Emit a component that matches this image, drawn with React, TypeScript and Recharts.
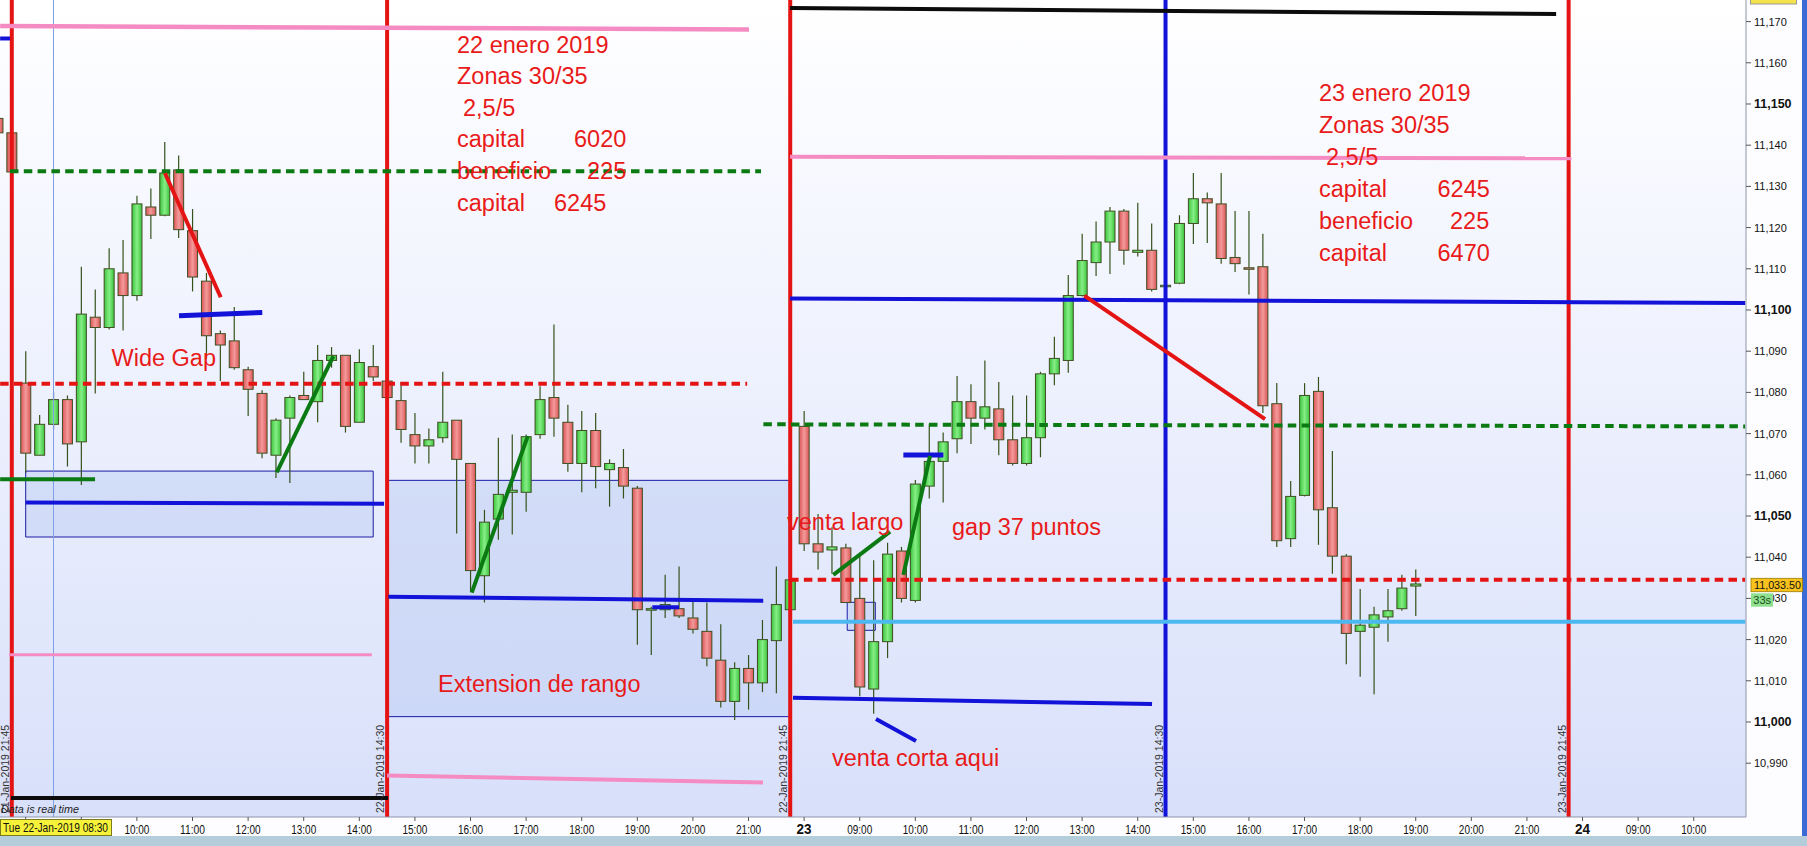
import React from "react";
import {
  ComposedChart,
  Bar,
  XAxis,
  YAxis,
  ReferenceLine,
  ReferenceArea,
} from "recharts";

// ---- candle data (15-minute bars, index 0 = 22-Jan 08:00, 56 bars per session) ----
const slotIdx = [
  -2, -1, 0, 1, 2, 3, 4, 5, 6, 7, 8, 9, 10, 11, 12, 13, 14, 15, 16, 17, 18, 19,
  20, 21, 22, 23, 24, 25, 26, 27, 28, 29, 30, 31, 32, 33, 34, 35, 36, 37, 38, 39,
  40, 41, 42, 43, 44, 45, 46, 47, 48, 49, 50, 51, 52, 53, 54, 55, 56, 57, 58, 59,
  60, 61, 62, 63, 64, 65, 66, 67, 68, 69, 70, 71, 72, 73, 74, 75, 76, 77, 78, 79,
  80, 81, 82, 83, 84, 85, 86, 87, 88, 89, 90, 91, 92, 93, 94, 95, 96, 97, 98, 99, 100,
];
const opens = [
  11146.5, 11143,
  11082.25, 11064.75, 11072.25, 11078.25, 11068, 11098.25, 11095.75, 11109, 11103.5, 11125,
  11123, 11134, 11119.25, 11107, 11094.25, 11092.5, 11085.5, 11079.75, 11064.75, 11073.75,
  11079.25, 11077.75, 11087.75, 11089, 11072.75, 11086.25, 11082.75, 11078, 11069.75, 11067,
  11069, 11073.25, 11062.75, 11035.5, 11049.25, 11055.75, 11055.75, 11069.75, 11078.75, 11072.75,
  11062.75, 11070.75, 11061.25, 11061.75, 11056.75, 11027.25, 11027.25, 11027.5, 11025.25, 11022,
  11015, 11005, 11013, 11009.5, 11019.75, 11027.25,
  11071.75, 11043.25, 11041.75, 11042.25, 11030, 11008, 11019.5, 11041.5, 11029.5, 11057.25,
  11063.25, 11068.75, 11077.75, 11073.75, 11076, 11068.5, 11062.75, 11069, 11084.5, 11087.75,
  11103.5, 11111.5, 11116.5, 11124, 11114, 11114.5, 11106, 11106.5, 11121, 11127,
  11125.75, 11112.75, 11110.25, 11110.5, 11077.25, 11044.5, 11055, 11080.25, 11052, 11040.25,
  11022, 11023, 11025.5, 11027.5, 11033,
];
const highs = [
  11148, 11143.5,
  11090, 11074.5, 11080, 11079.25, 11110.5, 11105, 11115, 11117, 11127.75, 11129.5,
  11140.75, 11137.5, 11124.5, 11109, 11095, 11100.75, 11086.25, 11080.5, 11073.75, 11079.25,
  11085, 11091.5, 11091, 11089, 11090.5, 11091.5, 11083.5, 11082.5, 11075, 11071.25,
  11085, 11073.25, 11062.75, 11051.5, 11069, 11069.75, 11069.75, 11081.5, 11096.5, 11077,
  11075.5, 11075, 11063.75, 11066.25, 11057.25, 11028, 11035.75, 11037.75, 11029.25, 11029,
  11023.75, 11014.5, 11016.25, 11024.75, 11037.75, 11038,
  11075.5, 11050.5, 11047.25, 11043.25, 11040.25, 11039.25, 11043.5, 11042.5, 11058.75, 11072.25,
  11070.25, 11084, 11082, 11087.75, 11082.5, 11079.25, 11079.25, 11085, 11093.5, 11108.5,
  11118.5, 11121.5, 11125, 11124.5, 11126, 11121, 11106.5, 11123, 11133.25, 11128.5,
  11133.25, 11124, 11124, 11118.5, 11082.25, 11058.5, 11082.25, 11083.75, 11065.75, 11040.75,
  11032.25, 11028, 11032.25, 11035.75, 11037,
];
const lows = [
  11142.5, 11133.5,
  11060.5, 11064.75, 11071, 11062, 11057.5, 11079.75, 11095.25, 11095, 11102.25, 11117.25,
  11122.75, 11117.5, 11104.5, 11088, 11082.75, 11085.5, 11074.25, 11064, 11059.25, 11058,
  11078.25, 11072.75, 11086, 11070.25, 11072.75, 11082.75, 11078.25, 11067.75, 11062.75, 11062.75,
  11067.75, 11045.75, 11031.5, 11029, 11044.25, 11045.5, 11051, 11068.75, 11069.25, 11060.75,
  11055.75, 11056.75, 11052.25, 11054.25, 11018.75, 11016.25, 11025.25, 11025.25, 11021.5, 11013.5,
  11003.5, 11000.5, 11003, 11007.25, 11007, 11027,
  11041.5, 11037, 11036, 11029, 11006.25, 11002, 11015.5, 11029, 11029, 11054.25,
  11053.25, 11065.25, 11067.5, 11071, 11064.75, 11062.25, 11062.25, 11064.25, 11081.75, 11084.75,
  11103.25, 11108.25, 11108.75, 11111, 11113, 11104.5, 11105.5, 11106.25, 11116, 11116.25,
  11111.25, 11109.25, 11103.75, 11075, 11042.5, 11042.5, 11054.75, 11043, 11036, 11014,
  11011, 11006.75, 11019.5, 11027, 11025.75,
];
const closes = [
  11143, 11133.5,
  11065.25, 11072.25, 11078.25, 11067.5, 11099, 11095.75, 11110, 11103.5, 11125.75, 11123,
  11133.25, 11119.5, 11108, 11093.75, 11091.5, 11086, 11080.75, 11065.25, 11073.25, 11078.75,
  11078.25, 11087.75, 11089, 11071.75, 11087.25, 11083.75, 11078.75, 11071, 11067, 11068.5,
  11072.75, 11063.75, 11036.75, 11048.5, 11055.25, 11056.25, 11069.25, 11078.25, 11073.75, 11062.75,
  11070.75, 11062, 11062.75, 11057.25, 11027.25, 11027.5, 11028.5, 11025.75, 11022.5, 11015.5,
  11005, 11013, 11009.5, 11020, 11028.5, 11034.5,
  11043.25, 11041.25, 11042.5, 11029, 11008.5, 11019.5, 11040.75, 11030, 11057.75, 11063.25,
  11068, 11077.75, 11073.75, 11076.5, 11068.5, 11062.75, 11069, 11084.5, 11088.25, 11103.5,
  11112, 11116.5, 11124, 11114.5, 11114.5, 11105, 11106, 11121, 11127, 11126,
  11112.5, 11111.25, 11110, 11076.75, 11044, 11054.75, 11079.25, 11051.5, 11040.25, 11021.5,
  11023.5, 11026, 11027, 11032.5, 11033.5,
];

// ---- axes ----
const X_MIN = -1.849;
const X_MAX = 123.76;
const Y_MIN = 10976.94;
const Y_MAX = 11175.24;
const yTicks = [
  10990, 11000, 11010, 11020, 11030, 11040, 11050, 11060, 11070, 11080, 11090,
  11100, 11110, 11120, 11130, 11140, 11150, 11160, 11170,
];
const xTickIdx = [
  0, 4, 8, 12, 16, 20, 24, 28, 32, 36, 40, 44, 48, 52, 56, 60, 64, 68, 72, 76, 80,
  84, 88, 92, 96, 100, 104, 108, 112, 116, 120,
];
const xTickText = [
  "", "", "10:00", "11:00", "12:00", "13:00", "14:00", "15:00", "16:00", "17:00",
  "18:00", "19:00", "20:00", "21:00", "23", "09:00", "10:00", "11:00", "12:00",
  "13:00", "14:00", "15:00", "16:00", "17:00", "18:00", "19:00", "20:00", "21:00",
  "24", "09:00", "10:00",
];

// ---- drawn annotations (data coordinates: slot index, price) ----
const RED = "#e51414";
const BLUE = "#1212d8";
const GREEN = "#0b7a12";
const PINK = "#f48cc3";
const BLACK = "#0c0c0c";
const LBLUE = "#4cb8f2";

type Seg = [number, number, number, number, string, number, boolean?];
const segments: Seg[] = [
  [-1.84, 11168.9, 52.04, 11168.1, PINK, 4.5],
  [54.99, 11173.3, 110.1, 11171.85, BLACK, 4],
  [-1.84, 11165.9, -1.13, 11165.9, BLUE, 4],
  [-1.13, 11133.7, 52.9, 11133.7, GREEN, 4, true],
  [-1.84, 11082.1, 51.9, 11082.1, RED, 4, true],
  [11.03, 11098.6, 17.02, 11099.4, BLUE, 5],
  [10.02, 11133.2, 14.03, 11103.1, RED, 4],
  [18.06, 11060.6, 22.13, 11088.8, GREEN, 4],
  [-1.84, 11058.9, 4.99, 11058.9, GREEN, 4],
  [0, 11053.25, 25.78, 11053.0, BLUE, 4],
  [-1.2, 11016.35, 24.9, 11016.35, PINK, 3],
  [-1.06, 10981.55, 26.07, 10981.55, BLACK, 4],
  [26.09, 11030.4, 53.06, 11029.45, BLUE, 4],
  [45.08, 11027.85, 47.0, 11027.85, BLUE, 4],
  [32.09, 11031.4, 36.12, 11069.4, GREEN, 4],
  [26, 10987, 53.04, 10985.3, PINK, 4],
  [54.99, 11137.2, 111.2, 11136.8, PINK, 4],
  [54.99, 11102.8, 123.7, 11101.7, BLUE, 4],
  [76.16, 11103.5, 89.16, 11073.5, RED, 4],
  [53.07, 11072.25, 123.7, 11071.75, GREEN, 4, true],
  [63.14, 11064.8, 66.02, 11064.8, BLUE, 5],
  [58.1, 11035.7, 62.18, 11046.2, GREEN, 4],
  [63.14, 11035.7, 65.06, 11064.6, GREEN, 4],
  [54.99, 11034.55, 123.7, 11034.55, RED, 4, true],
  [55.2, 11024.35, 123.7, 11024.35, LBLUE, 4],
  [55.2, 11005.9, 81.03, 11004.35, BLUE, 4],
  [61.17, 11000.7, 64.05, 10995.4, BLUE, 4],
];
type Box = [number, number, number, number];
const boxes: Box[] = [
  [0, 25.0, 11044.9, 11060.9],
  [26.0, 54.94, 11001.3, 11058.65],
  [59.1, 61.12, 11022.25, 11029.05],
];
const sessionLines: [number, string][] = [
  [-1, RED],
  [26, RED],
  [55, RED],
  [82, BLUE],
  [111, RED],
];
const sessionLabels = [
  "21-Jan-2019 21:45",
  "22-Jan-2019 14:30",
  "22-Jan-2019 21:45",
  "23-Jan-2019 14:30",
  "23-Jan-2019 21:45",
];

const candles = slotIdx.map((i, k) => ({
  i,
  o: opens[k],
  h: highs[k],
  l: lows[k],
  c: closes[k],
  range: [lows[k], highs[k]],
}));

const W = 1807;
const H = 846;
const PLOT_W = 1746;
const PLOT_H = 817;
const px = (i: number) => ((i - X_MIN) / (X_MAX - X_MIN)) * PLOT_W;

const Candle = (props: any) => {
  const { x, y, width, height, payload } = props;
  if (payload == null || x == null) return null;
  const cx = x + width / 2;
  const top = Math.min(y, y + height);
  const hh = Math.abs(height);
  const span = payload.h - payload.l;
  const py = (p: number) => (span === 0 ? top : top + ((payload.h - p) / span) * hh);
  const up = payload.c >= payload.o;
  const bTop = py(Math.max(payload.o, payload.c));
  const bBot = py(Math.min(payload.o, payload.c));
  const bh = Math.max(bBot - bTop, 1.5);
  const bw = 10;
  return (
    <g>
      <line x1={cx} x2={cx} y1={top} y2={top + hh} stroke="#35521c" strokeWidth={1.2} />
      <rect
        x={cx - bw / 2}
        y={bTop}
        width={bw}
        height={bh}
        fill={up ? "url(#gUp)" : "url(#gDn)"}
        stroke="#3f4f22"
        strokeWidth={1}
      />
    </g>
  );
};

const TXT = "'Liberation Sans', Arial, sans-serif";

const YTick = (props: any) => {
  const { x, y, payload } = props;
  const v = payload.value as number;
  const bold = v % 50 === 0;
  const s = v.toLocaleString("en-US");
  return (
    <text
      x={x}
      y={y + 4}
      fontSize={bold ? 12.5 : 11}
      fontWeight={bold ? 700 : 400}
      fill="#111"
      fontFamily={TXT}
    >
      {s}
    </text>
  );
};

const XTick = (props: any) => {
  const { x, y, payload } = props;
  const k = xTickIdx.indexOf(payload.value);
  const t = k >= 0 ? xTickText[k] : "";
  if (!t) return null;
  const day = t.length === 2;
  if (day) {
    return (
      <text x={x} y={y + 13} textAnchor="middle" fontSize={15} fontWeight={700} fill="#111" fontFamily={TXT}
        textLength={15} lengthAdjust="spacingAndGlyphs">
        {t}
      </text>
    );
  }
  return (
    <text
      x={x - 12.5}
      y={y + 13}
      fontSize={12.5}
      fill="#111"
      fontFamily={TXT}
      textLength={25}
      lengthAdjust="spacingAndGlyphs"
    >
      {t}
    </text>
  );
};

export default function App() {
  return (
    <div style={{ position: "relative", width: W, height: H, overflow: "hidden" }}>
      <style>{"body{margin:0}"}</style>
      <div
        style={{
          position: "absolute",
          left: 0,
          top: 0,
          width: PLOT_W,
          height: PLOT_H,
          background: "linear-gradient(to bottom, #ffffff 0%, #f0f3fe 40%, #d8e0fa 100%)",
        }}
      />
      <div style={{ position: "absolute", left: PLOT_W, top: 0, width: W - PLOT_W, height: 836, background: "#fdfdff" }} />
      <div style={{ position: "absolute", left: 0, top: PLOT_H, width: W, height: 836 - PLOT_H, background: "#fdfdff" }} />
      <div style={{ position: "absolute", left: 0, top: 836, width: W, height: 10, background: "#b3cdda" }} />
      <div style={{ position: "absolute", left: 1802, top: 0, width: 5, height: 836, background: "#3b6cd6" }} />
      <svg width={0} height={0} style={{ position: "absolute" }}>
        <defs>
          <linearGradient id="gUp" x1="0" x2="1" y1="0" y2="0">
            <stop offset="0%" stopColor="#3cc43c" />
            <stop offset="50%" stopColor="#86ee86" />
            <stop offset="100%" stopColor="#3cc43c" />
          </linearGradient>
          <linearGradient id="gDn" x1="0" x2="1" y1="0" y2="0">
            <stop offset="0%" stopColor="#dc5557" />
            <stop offset="50%" stopColor="#f39a9a" />
            <stop offset="100%" stopColor="#dc5557" />
          </linearGradient>
        </defs>
      </svg>
      <div style={{ position: "absolute", left: 0, top: 0 }}>
        <ComposedChart
          width={W}
          height={H}
          data={candles}
          margin={{ top: 0, right: 0, bottom: 0, left: 0 }}
        >
          <XAxis
            dataKey="i"
            type="number"
            domain={[X_MIN, X_MAX]}
            allowDataOverflow
            ticks={xTickIdx}
            interval={0}
            height={29}
            tickSize={4}
            tickMargin={0}
            tick={(p: any) => <XTick {...p} />}
            axisLine={{ stroke: "#8c96a8" }}
            tickLine={{ stroke: "#555" }}
          />
          <YAxis
            orientation="right"
            type="number"
            domain={[Y_MIN, Y_MAX]}
            allowDataOverflow
            ticks={yTicks}
            interval={0}
            width={61}
            tickSize={5}
            tickMargin={3}
            tick={(p: any) => <YTick {...p} />}
            axisLine={{ stroke: "#8c96a8" }}
            tickLine={{ stroke: "#555" }}
          />
          {boxes.map((b, k) => (
            <ReferenceArea
              key={"b" + k}
              x1={b[0]}
              x2={b[1]}
              y1={b[2]}
              y2={b[3]}
              fill="#b9c9f2"
              fillOpacity={0.45}
              stroke="#1c1ca6"
              strokeWidth={1}
              ifOverflow="hidden"
            />
          ))}
          <ReferenceLine x={2} stroke="#7f9fe8" strokeWidth={1} ifOverflow="hidden" />
          <Bar
            dataKey="range"
            barSize={10}
            isAnimationActive={false}
            shape={(p: any) => <Candle {...p} />}
          />
          {sessionLines.map(([xv, col], k) => (
            <ReferenceLine key={"v" + k} x={xv} stroke={col} strokeWidth={4} ifOverflow="hidden" />
          ))}
          {segments.map((s, k) => (
            <ReferenceLine
              key={"s" + k}
              segment={[
                { x: s[0], y: s[1] },
                { x: s[2], y: s[3] },
              ]}
              stroke={s[4]}
              strokeWidth={s[5]}
              strokeDasharray={s[6] ? "8.5 5.3" : undefined}
              ifOverflow="hidden"
            />
          ))}
        </ComposedChart>
      </div>
      <svg
        width={W}
        height={H}
        style={{ position: "absolute", left: 0, top: 0, pointerEvents: "none" }}
      >
        {sessionLines.map(([xv], k) => {
          const lx = px(xv) - 3;
          return (
            <text
              key={"sl" + k}
              x={lx}
              y={813}
              transform={`rotate(-90 ${lx} 813)`}
              fontSize={10.5}
              fill="#333"
              fontFamily={TXT}
            >
              {sessionLabels[k]}
            </text>
          );
        })}
        <text x={1} y={813} fontSize={11} fontStyle="italic" fill="#222" fontFamily={TXT}
          textLength={78} lengthAdjust="spacingAndGlyphs">
          Data is real time
        </text>
        <rect x={0.5} y={819.5} width={111} height={16} fill="#f6f23a" stroke="#7a7a20" strokeWidth={1} />
        <text x={3} y={832} fontSize={12.5} fill="#111" fontFamily={TXT}
          textLength={105} lengthAdjust="spacingAndGlyphs">
          Tue 22-Jan-2019 08:30
        </text>
        {/* price labels on the axis */}
        <rect x={1750.5} y={-8} width={46} height={12} fill="#f4e24a" stroke="#999" />
        <rect x={1751} y={578.3} width={51.5} height={13.4} fill="#f7c21e" stroke="#9c7a00" strokeWidth={0.8} />
        <text x={1754} y={589} fontSize={11.5} fill="#111" fontFamily={TXT}
          textLength={47} lengthAdjust="spacingAndGlyphs">
          11,033.50
        </text>
        <rect x={1751} y={593.3} width={22} height={13.4} fill="#8ee08e" />
        <text x={1753.3} y={604} fontSize={11} fill="#1b4d1b" fontFamily={TXT}>
          33s
        </text>
        {/* notes */}
        <g fill="#e81a1a" fontFamily={TXT} fontSize={23.5}>
          <text x={457} y={53}>22 enero 2019</text>
          <text x={457} y={84}>Zonas 30/35</text>
          <text x={463} y={115.5}>2,5/5</text>
          <text x={457} y={147}>capital</text>
          <text x={574} y={147}>6020</text>
          <text x={457} y={179}>beneficio</text>
          <text x={587} y={179}>225</text>
          <text x={457} y={210.5}>capital</text>
          <text x={554} y={210.5}>6245</text>
          <text x={1319} y={101}>23 enero 2019</text>
          <text x={1319} y={132.5}>Zonas 30/35</text>
          <text x={1326} y={165}>2,5/5</text>
          <text x={1319} y={197}>capital</text>
          <text x={1437.5} y={197}>6245</text>
          <text x={1319} y={229}>beneficio</text>
          <text x={1450} y={229}>225</text>
          <text x={1319} y={261}>capital</text>
          <text x={1437.5} y={261}>6470</text>
          <text x={111.5} y={366}>Wide Gap</text>
          <text x={438} y={691.5}>Extension de rango</text>
          <text x={787} y={529.5}>venta largo</text>
          <text x={952} y={535}>gap 37 puntos</text>
          <text x={832} y={766}>venta corta aqui</text>
        </g>
      </svg>
    </div>
  );
}
